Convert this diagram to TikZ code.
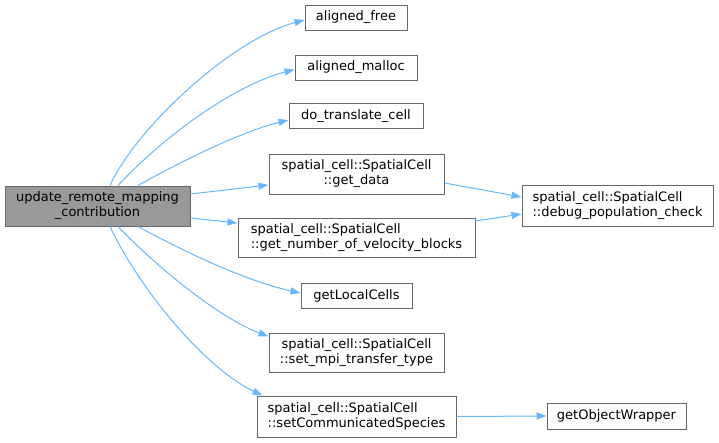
\documentclass[tikz,border=0pt]{standalone}
\usepackage{fontspec}
\setmainfont{DejaVu Sans}
\usepackage{xcolor}
\usetikzlibrary{arrows, arrows.meta}

\definecolor{edgeblue}{HTML}{63B8FF}
\definecolor{boxline}{HTML}{666666}
\definecolor{mainfill}{HTML}{999999}

\tikzset{
  fn/.style={draw=boxline, fill=white, line width=1pt, inner sep=0pt,
    font=\fontsize{13}{15}\selectfont},
  fnmain/.style={fn, fill=mainfill},
  call/.style={edgeblue, line width=1pt, -{Triangle[length=10pt,width=7pt]}}
}

\begin{document}
\begin{tikzpicture}[x=1pt,y=-1pt]
\useasboundingbox (0,0) rectangle (719,442);
\node[fnmain, minimum width=185, minimum height=40, align=center] (main) at (97.5,206) {update\_remote\_mapping\\\_contribution};
\node[fn, minimum width=102, minimum height=25] (free) at (356,17.5) {aligned\_free};
\node[fn, minimum width=122, minimum height=25] (malloc) at (356,67.5) {aligned\_malloc};
\node[fn, minimum width=134, minimum height=25] (translate) at (356,116) {do\_translate\_cell};
\node[fn, minimum width=175, minimum height=40, align=center] (data) at (356.5,174) {spatial\_cell::SpatialCell\\::get\_data};
\node[fn, minimum width=237, minimum height=39, align=left] (blocks) at (356.5,237.5) {spatial\_cell::SpatialCell\\::get\_number\_of\_velocity\_blocks};
\node[fn, minimum width=191, minimum height=41, align=left] (debug) at (617.5,205.5) {spatial\_cell::SpatialCell\\::debug\_population\_check};
\node[fn, minimum width=111, minimum height=25] (local) at (356.5,296) {getLocalCells};
\node[fn, minimum width=175, minimum height=39, align=center] (mpi) at (356.5,352.5) {spatial\_cell::SpatialCell\\::set\_mpi\_transfer\_type};
\node[fn, minimum width=199, minimum height=41, align=left] (species) at (356.5,416.5) {spatial\_cell::SpatialCell\\::setCommunicatedSpecies};
\node[fn, minimum width=139, minimum height=26] (wrapper) at (616.5,416) {getObjectWrapper};

% calls from the root
\draw[call] ([xshift=12.5]main.north) .. controls (135,130) and (230,40) .. ([yshift=-2.5]free.west);
\draw[call] ([xshift=20.5]main.north) .. controls (165,135) and (235,85) .. ([yshift=-2]malloc.west);
\draw[call] ([xshift=40.5]main.north) .. controls (180,162) and (240,132) .. ([yshift=-4]translate.west);
\draw[call] ([yshift=12]main.east) -- ([yshift=-11]data.west);
\draw[call] ([yshift=-12]main.east) -- ([yshift=14.5]blocks.west);
\draw[call] ([xshift=40.5]main.south) .. controls (190,255) and (250,282) .. ([yshift=3]local.west);
\draw[call] ([xshift=20.5]main.south) .. controls (160,270) and (220,318) .. ([yshift=16]mpi.west);
\draw[call] ([xshift=12.5]main.south) .. controls (140,290) and (205,368) .. ([xshift=6]species.north west);
% second level
\draw[call] ([yshift=-9]data.east) -- ([yshift=8.5]debug.west);
\draw[call] ([yshift=16.5]blocks.east) -- ([yshift=-8.5]debug.west);
\draw[call] (species.east) -- (wrapper.west);
\end{tikzpicture}
\end{document}
